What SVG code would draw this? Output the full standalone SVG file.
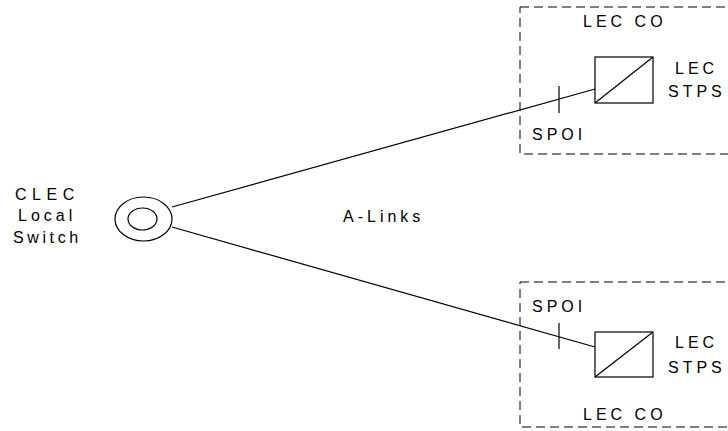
<svg xmlns="http://www.w3.org/2000/svg" width="728" height="431" viewBox="0 0 728 431">
<style>
text{font-family:"Liberation Sans",Arial,sans-serif;font-size:16px;letter-spacing:4px;fill:#000}
.ln{stroke:#000;stroke-width:1.2;fill:none}
.box{stroke:#000;stroke-width:1;fill:none;stroke-dasharray:9 5}
</style>
<rect width="728" height="431" fill="#fff"/>
<g id="lec-co-top">
<rect class="box" x="520" y="7" width="220" height="147"/>
<text x="583" y="27">LEC CO</text>
</g>
<g id="lec-co-bottom">
<rect class="box" x="520" y="282" width="220" height="145"/>
<text x="583" y="420">LEC CO</text>
</g>
<g id="clec-switch">
<ellipse class="ln" cx="143.5" cy="219" rx="28.5" ry="22"/>
<ellipse class="ln" cx="142.5" cy="219" rx="14.5" ry="11"/>
<text x="15" y="200" style="letter-spacing:5.5px">CLEC</text>
<text x="18" y="221">Local</text>
<text x="13" y="243" style="letter-spacing:3.6px">Switch</text>
</g>
<g id="stp-top">
<rect class="ln" x="595" y="57" width="58" height="46"/>
<line class="ln" x1="595" y1="103" x2="653" y2="57"/>
<text x="675" y="74">LEC</text>
<text x="668" y="97">STPS</text>
</g>
<g id="stp-bottom">
<rect class="ln" x="595" y="332" width="58" height="45"/>
<line class="ln" x1="595" y1="377" x2="653" y2="332"/>
<text x="675" y="348">LEC</text>
<text x="668" y="373">STPS</text>
</g>
<g id="connectors">
<line class="ln" x1="172" y1="207" x2="595" y2="89"/>
<line class="ln" x1="172" y1="227" x2="595" y2="347"/>
<line class="ln" x1="559" y1="86" x2="559" y2="113"/>
<line class="ln" x1="559" y1="323" x2="559" y2="349"/>
<text x="532" y="140">SPOI</text>
<text x="532" y="312">SPOI</text>
<text x="343" y="222">A-Links</text>
</g>
</svg>
